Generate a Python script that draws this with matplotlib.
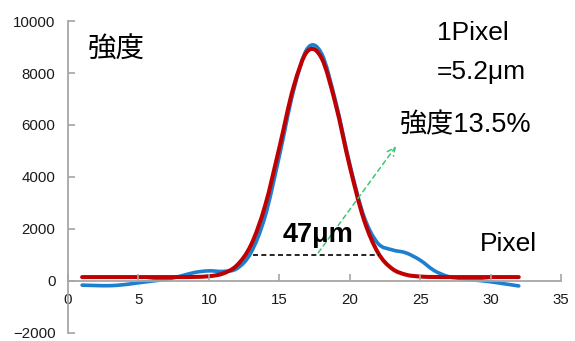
import matplotlib
matplotlib.use('Agg')
import matplotlib.pyplot as plt
from matplotlib.path import Path
from matplotlib.patches import PathPatch

# 1ピクセルごとの強度プロファイル（測定値）
pixels = list(range(1, 33))
measured = [-160, -175, -180, -140, -70, 0, 70, 190, 330, 390,
            370, 480, 1100, 2500, 4800, 7300, 8950, 8750, 6900, 4500,
            2500, 1450, 1200, 1080, 800, 400, 170, 90, 30, -30,
            -110, -190]

# ガウスフィット
fitted = [150, 150, 150, 150, 150, 150, 150, 151, 157, 183,
          287, 607, 1396, 2910, 5125, 7440, 8839, 8574, 6793, 4410,
          2372, 1093, 476, 241, 171, 154, 150, 150, 150, 150,
          150, 150]

# 13.5% 強度の幅 (47μm)
width_x = [13.1, 22.1]
width_y = 1000

x_ticks = [0, 5, 10, 15, 20, 25, 30, 35]
y_ticks = [-2000, 0, 2000, 4000, 6000, 8000, 10000]

AXIS_GRAY = '#a6a6a6'
TEXT_FONT = ['Liberation Sans', 'Noto Sans CJK JP']


def smooth_path(x, y):
    # Excel風のスムージング線（ベジェ曲線）
    n = len(x)
    verts = [(x[0], y[0])]
    codes = [Path.MOVETO]
    for i in range(n - 1):
        xa, ya = (x[i - 1], y[i - 1]) if i > 0 else (x[i], y[i])
        xd, yd = (x[i + 2], y[i + 2]) if i + 2 < n else (x[i + 1], y[i + 1])
        c1 = (x[i] + (x[i + 1] - xa) / 6, y[i] + (y[i + 1] - ya) / 6)
        c2 = (x[i + 1] - (xd - x[i]) / 6, y[i + 1] - (yd - y[i]) / 6)
        verts += [c1, c2, (x[i + 1], y[i + 1])]
        codes += [Path.CURVE4] * 3
    return Path(verts, codes)


fig = plt.figure(figsize=(5.75, 3.41), dpi=100)
ax = fig.add_axes([0.1183, 0.0235, 0.8574, 0.9149])

ax.add_patch(PathPatch(smooth_path(pixels, measured), fill=False,
                       edgecolor='#1f7fcf', linewidth=2.6, capstyle='round'))
ax.add_patch(PathPatch(smooth_path(pixels, fitted), fill=False,
                       edgecolor='#c00000', linewidth=2.9, capstyle='round'))

ax.plot(width_x, [width_y, width_y], color='black', linewidth=1.2,
        linestyle=(0, (3, 2)))
ax.annotate('', xy=(23.4, 5270), xytext=(17.65, 1000),
            arrowprops=dict(arrowstyle='->', color='#3cc86e', linewidth=1.1,
                            linestyle=(0, (3, 2.5)), mutation_scale=14))

ax.set_xlim(0, 35)
ax.set_ylim(-2000, 10000)
ax.set_xticks(x_ticks)
ax.set_yticks(y_ticks)

for side in ['top', 'right']:
    ax.spines[side].set_visible(False)
ax.spines['bottom'].set_position(('data', 0))
for side in ['left', 'bottom']:
    ax.spines[side].set_color(AXIS_GRAY)
    ax.spines[side].set_linewidth(1.3)

ax.tick_params(direction='in', length=5, width=1.2, color=AXIS_GRAY,
               labelsize=10.8, labelcolor='#1a1a1a')
ax.tick_params(axis='x', pad=9)
ax.tick_params(axis='y', pad=9)
for lbl in ax.get_xticklabels() + ax.get_yticklabels():
    lbl.set_family('Liberation Sans')

ax.text(1.42, 8846, '強度', fontsize=20.5, family=TEXT_FONT, va='center')
ax.text(26.2, 9270, '1Pixel', fontsize=19, family=TEXT_FONT, va='baseline')
ax.text(26.2, 7770, '=5.2μm', fontsize=19, family=TEXT_FONT, va='baseline')
ax.text(23.57, 5730, '強度13.5%', fontsize=19.5, family=TEXT_FONT, va='baseline')
ax.text(29.25, 1154, 'Pixel', fontsize=19, family=TEXT_FONT, va='baseline')
ax.text(15.26, 1500, '47μm', fontsize=19.5, family=TEXT_FONT,
        fontweight='bold', va='baseline')

fig.savefig('out.png', dpi=100)
